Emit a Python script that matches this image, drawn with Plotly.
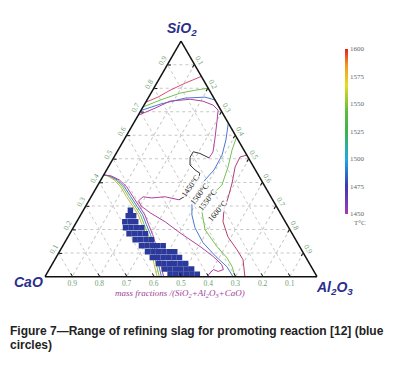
import plotly.graph_objects as go

# ---------------- data (mass fractions) ----------------
# refining slag range (blue squares): one SiO2 level per row, CaO values per row
slag_row_sio2 = [0.282, 0.258, 0.233, 0.208, 0.182, 0.157, 0.131, 0.106, 0.081, 0.056, 0.032, 0.010]
slag_row_cao = [
    [0.545],
    [0.565, 0.545],
    [0.590, 0.570, 0.550],
    [0.600, 0.580, 0.560, 0.540],
    [0.600, 0.580, 0.560, 0.540],
    [0.590, 0.570, 0.550, 0.530],
    [0.580, 0.560, 0.540, 0.520, 0.500],
    [0.570, 0.550, 0.530, 0.510, 0.490, 0.470],
    [0.565, 0.545, 0.525, 0.505, 0.485, 0.465],
    [0.555, 0.535, 0.515, 0.495, 0.475, 0.455],
    [0.545, 0.525, 0.505, 0.485, 0.465, 0.445],
    [0.535, 0.515, 0.495, 0.475, 0.455, 0.435],
]

# isotherms in the silica field (SiO2, Al2O3)
sil_1600_sio2 = [0.740, 0.762, 0.791, 0.821, 0.850]
sil_1600_al2o3 = [0.000, 0.034, 0.064, 0.104, 0.150]
sil_1550_sio2 = [0.720, 0.749, 0.779, 0.791, 0.800]
sil_1550_al2o3 = [0.000, 0.048, 0.107, 0.155, 0.200]
sil_1500_sio2 = [0.705, 0.732, 0.758, 0.762, 0.750]
sil_1500_al2o3 = [0.000, 0.057, 0.136, 0.207, 0.250]

# 1450 isotherm: upper part, dark loop, lower part
iso1450_up_sio2 = [0.685, 0.715, 0.745, 0.753, 0.745, 0.728, 0.707, 0.656, 0.588, 0.529, 0.504]
iso1450_up_al2o3 = [0.000, 0.047, 0.087, 0.157, 0.208, 0.254, 0.283, 0.304, 0.331, 0.353, 0.351]
iso1450_loop_sio2 = [0.504, 0.523, 0.530, 0.507, 0.474, 0.453, 0.439, 0.418, 0.377, 0.342, 0.326]
iso1450_loop_al2o3 = [0.351, 0.308, 0.280, 0.280, 0.296, 0.325, 0.350, 0.355, 0.352, 0.344, 0.330]
iso1450_low_sio2 = [0.326, 0.339, 0.334, 0.339, 0.322, 0.300, 0.271, 0.233, 0.186, 0.128, 0.086,
                    0.051, 0.030, 0.022, 0.030, 0.016, 0.000]
iso1450_low_al2o3 = [0.330, 0.272, 0.226, 0.191, 0.183, 0.203, 0.251, 0.325, 0.403, 0.506, 0.575,
                     0.624, 0.641, 0.626, 0.604, 0.599, 0.596]

# isotherms on the alumina side
iso1500_sio2 = [0.652, 0.580, 0.516, 0.453, 0.410, 0.360, 0.309, 0.262, 0.207, 0.144, 0.085, 0.042, 0.000]
iso1500_al2o3 = [0.348, 0.375, 0.393, 0.395, 0.383, 0.379, 0.386, 0.409, 0.448, 0.509, 0.586, 0.648, 0.691]
iso1550_sio2 = [0.592, 0.537, 0.466, 0.389, 0.347, 0.313, 0.271, 0.199, 0.127, 0.080, 0.042, 0.000]
iso1550_al2o3 = [0.408, 0.419, 0.440, 0.456, 0.440, 0.428, 0.442, 0.489, 0.569, 0.629, 0.667, 0.699]
iso1600_sio2 = [0.516, 0.508, 0.466, 0.398, 0.334, 0.284, 0.233, 0.169, 0.114, 0.072, 0.000]
iso1600_al2o3 = [0.484, 0.463, 0.466, 0.489, 0.506, 0.516, 0.538, 0.588, 0.649, 0.692, 0.735]

# isotherm bundle on the lime side
lime_sio2 = [0.432, 0.427, 0.410, 0.381, 0.339, 0.296, 0.262, 0.220, 0.178, 0.135, 0.093, 0.051, 0.000]
lime_1600_al2o3 = [0.000, 0.018, 0.050, 0.088, 0.130, 0.176, 0.212, 0.247, 0.283, 0.316, 0.348, 0.376, 0.412]
lime_1550_al2o3 = [0.000, 0.022, 0.056, 0.095, 0.138, 0.184, 0.220, 0.255, 0.291, 0.324, 0.356, 0.384, 0.420]
lime_1500_al2o3 = [0.000, 0.026, 0.062, 0.102, 0.146, 0.192, 0.228, 0.263, 0.299, 0.332, 0.364, 0.392, 0.428]
lime_1450_al2o3 = [0.000, 0.031, 0.069, 0.110, 0.154, 0.200, 0.236, 0.271, 0.307, 0.340, 0.372, 0.400, 0.436]

temps = [1450, 1475, 1500, 1525, 1550, 1575, 1600]
tick_vals = [0.1, 0.2, 0.3, 0.4, 0.5, 0.6, 0.7, 0.8, 0.9]

# ---------------- figure ----------------
# the page body adds an 8 px margin, so the figure is drawn 8 px smaller and
# reference pixel positions are shifted by that offset
OFF = 8
W, H = 410 - OFF, 365 - OFF
C1450, C1500, C1550, C1600 = "#b2409e", "#4a78cf", "#72c24e", "#b23f6e"
C1600_SIL = "#d4506e"


def cao(s, al):
    return [max(0.0, round(1 - x - y, 4)) for x, y in zip(s, al)]


def line(s, al, color, width=1.0):
    return go.Scatterternary(a=s, b=cao(s, al), c=al, mode="lines",
                             line=dict(color=color, width=width),
                             hoverinfo="skip", showlegend=False)


fig = go.Figure()
fig.add_trace(line(sil_1600_sio2, sil_1600_al2o3, C1600_SIL))
fig.add_trace(line(sil_1550_sio2, sil_1550_al2o3, C1550))
fig.add_trace(line(sil_1500_sio2, sil_1500_al2o3, C1500))
fig.add_trace(line(iso1450_up_sio2, iso1450_up_al2o3, C1450))
fig.add_trace(line(iso1450_loop_sio2, iso1450_loop_al2o3, "#333333"))
fig.add_trace(line(iso1450_low_sio2, iso1450_low_al2o3, C1450))
fig.add_trace(line(iso1500_sio2, iso1500_al2o3, C1500))
fig.add_trace(line(iso1550_sio2, iso1550_al2o3, C1550))
fig.add_trace(line(iso1600_sio2, iso1600_al2o3, C1600))
fig.add_trace(line(lime_sio2, lime_1600_al2o3, "#c8b84a"))
fig.add_trace(line(lime_sio2, lime_1550_al2o3, C1550))
fig.add_trace(line(lime_sio2, lime_1500_al2o3, C1500))
fig.add_trace(line(lime_sio2, lime_1450_al2o3, C1450))

sq_a, sq_b = [], []
for s, row in zip(slag_row_sio2, slag_row_cao):
    for b in row:
        sq_a.append(s)
        sq_b.append(b)
sq_c = [max(0.0, round(1 - x - y, 4)) for x, y in zip(sq_a, sq_b)]
fig.add_trace(go.Scatterternary(a=sq_a, b=sq_b, c=sq_c, mode="markers",
                                marker=dict(symbol="square", size=5.5, color="#2b399c",
                                            line=dict(width=0)),
                                hoverinfo="skip", showlegend=False))

# colour bar (temperature scale)
cscale = [[0.0, "#a43ab4"], [0.17, "#3a3ab4"], [0.33, "#1ea8e4"], [0.5, "#3cb44a"],
          [0.62, "#5cbc3c"], [0.78, "#e6dc1e"], [0.9, "#f29a1e"], [1.0, "#e4201e"]]
fig.add_trace(go.Scatterternary(
    a=[0.5] * len(temps), b=[0.25] * len(temps), c=[0.25] * len(temps), mode="markers",
    marker=dict(size=1, opacity=0, color=temps, colorscale=cscale, cmin=1450, cmax=1600,
                showscale=True,
                colorbar=dict(x=(345 - OFF) / W, xanchor="left", xpad=0, thickness=3,
                              len=165 / H, lenmode="fraction", y=1 - (131.5 - OFF) / H,
                              yanchor="middle", ypad=0, outlinewidth=0,
                              tickvals=temps, ticks="",
                              tickfont=dict(family="Liberation Serif", size=7, color="#666"))),
    hoverinfo="skip", showlegend=False))

axis_common = dict(
    tickmode="array", tickvals=tick_vals, showline=True, linecolor="#111", linewidth=1.5,
    ticks="inside", ticklen=3, tickcolor="#111", showgrid=True, gridcolor="#c8c8c8",
    gridwidth=0.8, griddash="dot",
    tickfont=dict(family="Liberation Serif", size=7.5, color="#6f9f73"), title=dict(text=""),
)

fig.update_layout(
    width=W, height=H, margin=dict(l=0, r=0, t=0, b=0),
    paper_bgcolor="white", plot_bgcolor="white", showlegend=False,
    ternary=dict(
        domain=dict(x=[(45 - OFF) / W, (317 - OFF) / W],
                    y=[1 - (277 - OFF) / H, 1 - (40.7 - OFF) / H]),
        sum=1, bgcolor="white",
        aaxis=dict(axis_common, tickangle=-60),
        baxis=dict(axis_common),
        caxis=dict(axis_common, tickangle=60),
    ),
)


def px(x, y):
    return (x - OFF) / W, 1 - (y - OFF) / H


annos = []
title_font = dict(family="Liberation Sans", size=14, color="#2b2f8c")
for text, (x, y) in [("<b><i>SiO<sub>2</sub></i></b>", (182, 29)),
                     ("<b><i>CaO</i></b>", (28, 282)),
                     ("<b><i>Al<sub>2</sub>O<sub>3</sub></i></b>", (334, 288))]:
    xp, yp = px(x, y)
    annos.append(dict(text=text, x=xp, y=yp, xref="paper", yref="paper", showarrow=False,
                      xanchor="center", yanchor="middle", font=title_font))

xp, yp = px(180, 301)
annos.append(dict(text="<i>mass fractions /(SiO<sub>2</sub>+Al<sub>2</sub>O<sub>3</sub>+CaO)</i>",
                  x=xp, y=yp, xref="paper", yref="paper", showarrow=False,
                  font=dict(family="Liberation Serif", size=9, color="#a0409c")))

for text, (x, y), ang in [("1450°C", (190, 186), -55), ("1500°C", (199, 194), -52),
                          ("1550°C", (207, 200), -52), ("1600°C", (217, 211), -50)]:
    xp, yp = px(x, y)
    annos.append(dict(text=text, x=xp, y=yp, xref="paper", yref="paper", showarrow=False,
                      textangle=ang, bgcolor="rgba(255,255,255,0.85)", borderpad=0,
                      font=dict(family="Liberation Serif", size=8, color="#222")))

xp, yp = px(352, 223)
annos.append(dict(text="T°C", x=xp, y=yp, xref="paper", yref="paper", showarrow=False,
                  xanchor="left", font=dict(family="Liberation Serif", size=7, color="#666")))

cap_font = dict(family="Liberation Sans", size=12, color="#222")
for text, y in [("<b>Figure 7\u2014Range of refining slag for promoting reaction [12] (blue</b>", 331),
                ("<b>circles)</b>", 345)]:
    xp, yp = px(OFF, y)
    annos.append(dict(text=text, x=xp, y=yp, xref="paper", yref="paper", showarrow=False,
                      xanchor="left", yanchor="middle", font=cap_font))

fig.update_layout(annotations=annos)
fig.write_html("out.html")
